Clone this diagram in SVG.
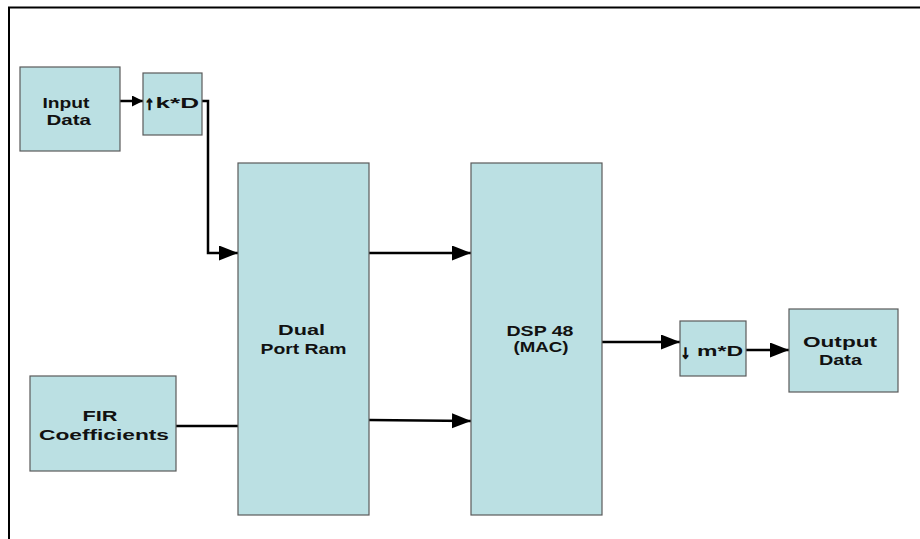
<svg xmlns="http://www.w3.org/2000/svg" width="920" height="539" viewBox="0 0 920 539">
<defs>
<style>
.box{fill:#BBE0E3;stroke:#5a5a5a;stroke-width:1.2}
.t{font-family:"Liberation Sans",Arial,sans-serif;font-weight:bold;font-size:15px;fill:#111}
.ar{font-family:"Liberation Sans",Arial,sans-serif;font-weight:bold;font-size:18px;fill:#111;stroke:#111;stroke-width:1.4}
.c{fill:none;stroke:#000;stroke-width:2.5}
</style>
<marker id="big" markerUnits="userSpaceOnUse" markerWidth="20" markerHeight="16" refX="19" refY="7.5" orient="auto">
<path d="M0,0 L19,7.5 L0,15 Z" fill="#000"/>
</marker>
<marker id="small" markerUnits="userSpaceOnUse" markerWidth="12" markerHeight="12" refX="11" refY="5.5" orient="auto">
<path d="M0,0 L11,5.5 L0,11 Z" fill="#000"/>
</marker>
</defs>
<rect width="920" height="539" fill="#fff"/>
<path d="M9,541 V7.5 H922" fill="none" stroke="#000" stroke-width="2"/>

<g id="connectors">
<path class="c" d="M120,101 H143" marker-end="url(#small)"/>
<path class="c" d="M202,101 H208 V253 H238" marker-end="url(#big)"/>
<path class="c" d="M369,253 H471" marker-end="url(#big)"/>
<path class="c" d="M369,420 L471,421" marker-end="url(#big)"/>
<path class="c" d="M176,426 H238"/>
<path class="c" d="M602,342 H680" marker-end="url(#big)"/>
<path class="c" d="M746,350 H789" marker-end="url(#big)"/>
</g>

<g id="input-data">
<rect class="box" x="20" y="67" width="100" height="84"/>
<text class="t" x="42.5" y="107.5" textLength="47" lengthAdjust="spacingAndGlyphs">Input</text>
<text class="t" x="46.5" y="125" textLength="44.5" lengthAdjust="spacingAndGlyphs">Data</text>
</g>

<g id="upsample">
<rect class="box" x="143" y="73" width="59" height="62"/>
<text class="t" y="107.5"><tspan class="ar" x="145" y="108.5">↑</tspan><tspan x="155.5" y="107.5" textLength="43.5" lengthAdjust="spacingAndGlyphs">k*D</tspan></text>
</g>

<g id="fir-coefficients">
<rect class="box" x="30" y="376" width="146" height="95"/>
<text class="t" x="82.5" y="421" textLength="35" lengthAdjust="spacingAndGlyphs">FIR</text>
<text class="t" x="39" y="439.5" textLength="130" lengthAdjust="spacingAndGlyphs">Coefficients</text>
</g>

<g id="dual-port-ram">
<rect class="box" x="238" y="163" width="131" height="352"/>
<text class="t" x="278" y="335" textLength="47" lengthAdjust="spacingAndGlyphs">Dual</text>
<text class="t" x="260.5" y="353.5" textLength="86" lengthAdjust="spacingAndGlyphs">Port Ram</text>
</g>

<g id="dsp48">
<rect class="box" x="471" y="163" width="131" height="352"/>
<text class="t" x="506.5" y="335.5" textLength="67" lengthAdjust="spacingAndGlyphs">DSP 48</text>
<text class="t" x="513.5" y="352" textLength="55" lengthAdjust="spacingAndGlyphs">(MAC)</text>
</g>

<g id="downsample">
<rect class="box" x="680" y="321" width="66" height="55"/>
<text class="t" y="355.5"><tspan class="ar" x="681" y="358">↓</tspan><tspan x="697" y="355.5" textLength="46" lengthAdjust="spacingAndGlyphs">m*D</tspan></text>
</g>

<g id="output-data">
<rect class="box" x="789" y="309" width="109" height="83"/>
<text class="t" x="803" y="346.5" textLength="74" lengthAdjust="spacingAndGlyphs">Output</text>
<text class="t" x="819" y="365" textLength="43" lengthAdjust="spacingAndGlyphs">Data</text>
</g>
</svg>
